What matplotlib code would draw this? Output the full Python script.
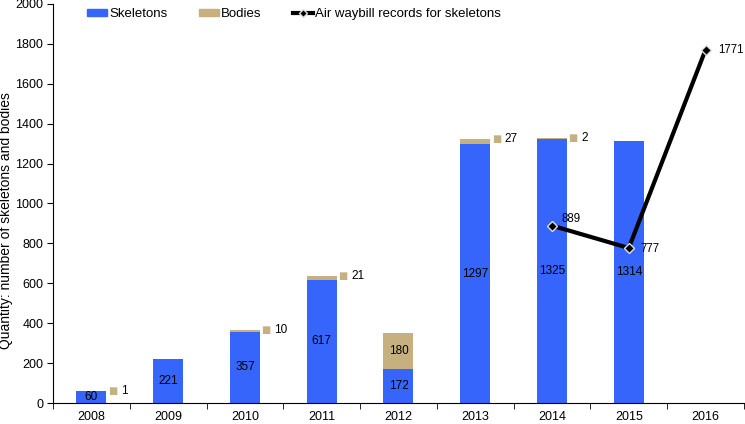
import numpy as np
import matplotlib
matplotlib.use('Agg')
import matplotlib.pyplot as plt
from matplotlib.patches import Patch
from matplotlib.lines import Line2D

plt.rcParams['font.family'] = ['Liberation Sans', 'DejaVu Sans']

# Data
years     = ['2008', '2009', '2010', '2011', '2012', '2013', '2014', '2015', '2016']
skeletons = [60, 221, 357, 617, 172, 1297, 1325, 1314, 0]
bodies    = [1, 0, 10, 21, 180, 27, 2, 0, 0]
awb_years = ['2014', '2015', '2016']
awb_vals  = [889, 777, 1771]

blue = '#3565fb'
tan  = '#c6b07f'

fig = plt.figure(figsize=(7.45, 4.24), dpi=100)
ax = fig.add_axes([0.0711, 0.0495, 0.9275, 0.9411])

x = np.arange(len(years))
width = 0.39
ax.bar(x, skeletons, width, color=blue, zorder=2)
ax.bar(x, bodies, width, bottom=skeletons, color=tan, zorder=2)

# labels inside bars
for i, (s, b) in enumerate(zip(skeletons, bodies)):
    if s > 0:
        ax.text(x[i], s / 2, str(s), ha='center', va='center', fontsize=8.5, zorder=4)
    if b >= 100:
        ax.text(x[i], s + b / 2, str(b), ha='center', va='center', fontsize=8.5, zorder=4)
    elif b > 0:
        # small bodies counts shown beside the bar with a legend key
        ax.annotate('\u25a0', xy=(x[i] + width / 2, s + b), xytext=(4.5, 0),
                    textcoords='offset points', ha='center', va='center',
                    color=tan, fontsize=7, family=['DejaVu Sans'])
        ax.annotate(str(b), xy=(x[i] + width / 2, s + b), xytext=(10.5, 0),
                    textcoords='offset points', ha='left', va='center', fontsize=8.5)

# air waybill line
xa = [years.index(y) for y in awb_years]
ax.plot(xa, awb_vals, color='black', lw=3, marker='D', ms=5,
        mfc='black', mec='#e0e0e0', mew=1, zorder=5)
offsets = [(7, 4.5), (8.5, -1), (9.3, 0)]
for xi, v, off in zip(xa, awb_vals, offsets):
    ax.annotate(str(v), xy=(xi, v), xytext=off, textcoords='offset points',
                ha='left', va='center', fontsize=8.3)

ax.set_xlim(-0.5, len(years) - 0.5)
ax.set_ylim(0, 2000)
ax.set_yticks(np.arange(0, 2001, 200))
ax.set_xticks(x)
ax.set_xticklabels(years, fontsize=9)
ax.set_xticks(np.arange(-0.5, len(years), 1), minor=True)
ax.tick_params(axis='x', which='major', length=0, pad=5.5)
ax.tick_params(axis='x', which='minor', length=4, direction='out')
ax.tick_params(axis='y', labelsize=9, length=4, direction='out', pad=3)
ax.spines['top'].set_visible(False)
ax.spines['right'].set_visible(False)
fig.text(6 / 745, 1 - 221 / 424, 'Quantity: number of skeletons and bodies',
         rotation=90, ha='center', va='center', fontsize=10)

handles = [Patch(color=blue), Patch(color=tan),
           Line2D([], [], color='black', lw=3, marker='D', ms=4, mfc='black', mec='#e0e0e0')]
labels = ['Skeletons', 'Bodies', 'Air waybill records for skeletons']
fig.legend(handles, labels, loc='center left', bbox_to_anchor=(0.117, 0.967), ncol=3,
           frameon=False, fontsize=9.5, handlelength=1.5, handleheight=0.4,
           handletextpad=0.15, columnspacing=2.4, borderaxespad=0, borderpad=0)

fig.savefig('out.png', dpi=100)
